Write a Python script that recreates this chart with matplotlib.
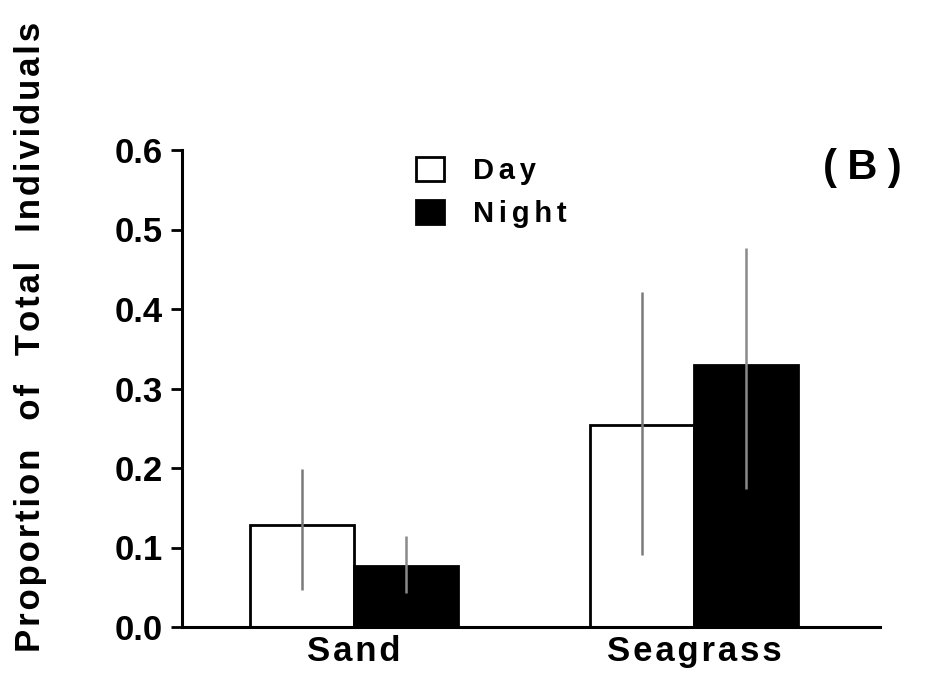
import matplotlib
matplotlib.use("Agg")
import matplotlib.pyplot as plt
import numpy as np

categories = ["Sand", "Seagrass"]
series = ["Day", "Night"]
day_values = [0.128, 0.254]
night_values = [0.077, 0.330]
day_err_low = [0.047, 0.091]
day_err_high = [0.199, 0.421]
night_err_low = [0.043, 0.173]
night_err_high = [0.114, 0.477]
yticks = [0.0, 0.1, 0.2, 0.3, 0.4, 0.5, 0.6]
ylabel = "Proportion of Total Individuals"
panel = "(B)"

plt.rcParams['font.family'] = ['Liberation Sans', 'DejaVu Sans']
plt.rcParams['font.weight'] = 'bold'

HS = '\u200a'


def spaced(s, gap=HS, word_gap='  '):
    words = s.split(' ')
    return (word_gap).join(gap.join(list(w)) for w in words)


fig = plt.figure(figsize=(9.26, 6.86), dpi=100)
ax = fig.add_axes([182/926, 59/686, (880-182)/926, (627-150)/686])

x = np.arange(len(categories))
w = 0.306

day = np.array(day_values)
night = np.array(night_values)
b1 = ax.bar(x - w/2, day, w, color='white', edgecolor='black', linewidth=2.0, label=spaced(series[0], HS*2), zorder=2)
b2 = ax.bar(x + w/2, night, w, color='black', edgecolor='black', linewidth=2.0, label=spaced(series[1], HS*2), zorder=2)

ax.errorbar(x - w/2, day, yerr=[day - np.array(day_err_low), np.array(day_err_high) - day],
            fmt='none', ecolor='#7a7a7a', elinewidth=1.8, capsize=0, zorder=3)
ax.errorbar(x + w/2, night, yerr=[night - np.array(night_err_low), np.array(night_err_high) - night],
            fmt='none', ecolor='#8a8a8a', elinewidth=1.8, capsize=0, zorder=3)

ax.set_xlim(-0.506, 1.547)
ax.set_ylim(0, 0.6)
ax.set_yticks(yticks)
ax.set_yticklabels([f"{v:.1f}" for v in yticks], fontsize=25, fontweight='bold')
ax.set_xticks(x)
ax.set_xticklabels([spaced(c) for c in categories], fontsize=25, fontweight='bold')
ax.tick_params(axis='x', length=0, pad=6)
ax.tick_params(axis='y', length=8, width=2, direction='out', pad=6)

for s in ['top', 'right']:
    ax.spines[s].set_visible(False)
ax.spines['left'].set_linewidth(2.2)
ax.spines['bottom'].set_linewidth(2.2)

fig.text(31/926, 1 - 337/686, spaced(ylabel, HS, '   '), fontsize=25, fontweight='bold',
         rotation=90, ha='center', va='center')

leg = ax.legend(handles=[b1, b2], loc='upper left', bbox_to_anchor=(0.306, 1.028), frameon=False,
                fontsize=21, handlelength=0.95, handleheight=0.9, handletextpad=1.0, labelspacing=0.5,
                borderpad=0.2)
for t in leg.get_texts():
    t.set_fontweight('bold')

fig.text(823/926, 1 - 168/686, spaced(panel, HS*3), fontsize=30, fontweight='bold', va='center', ha='left')

fig.savefig("out.png", dpi=100)
